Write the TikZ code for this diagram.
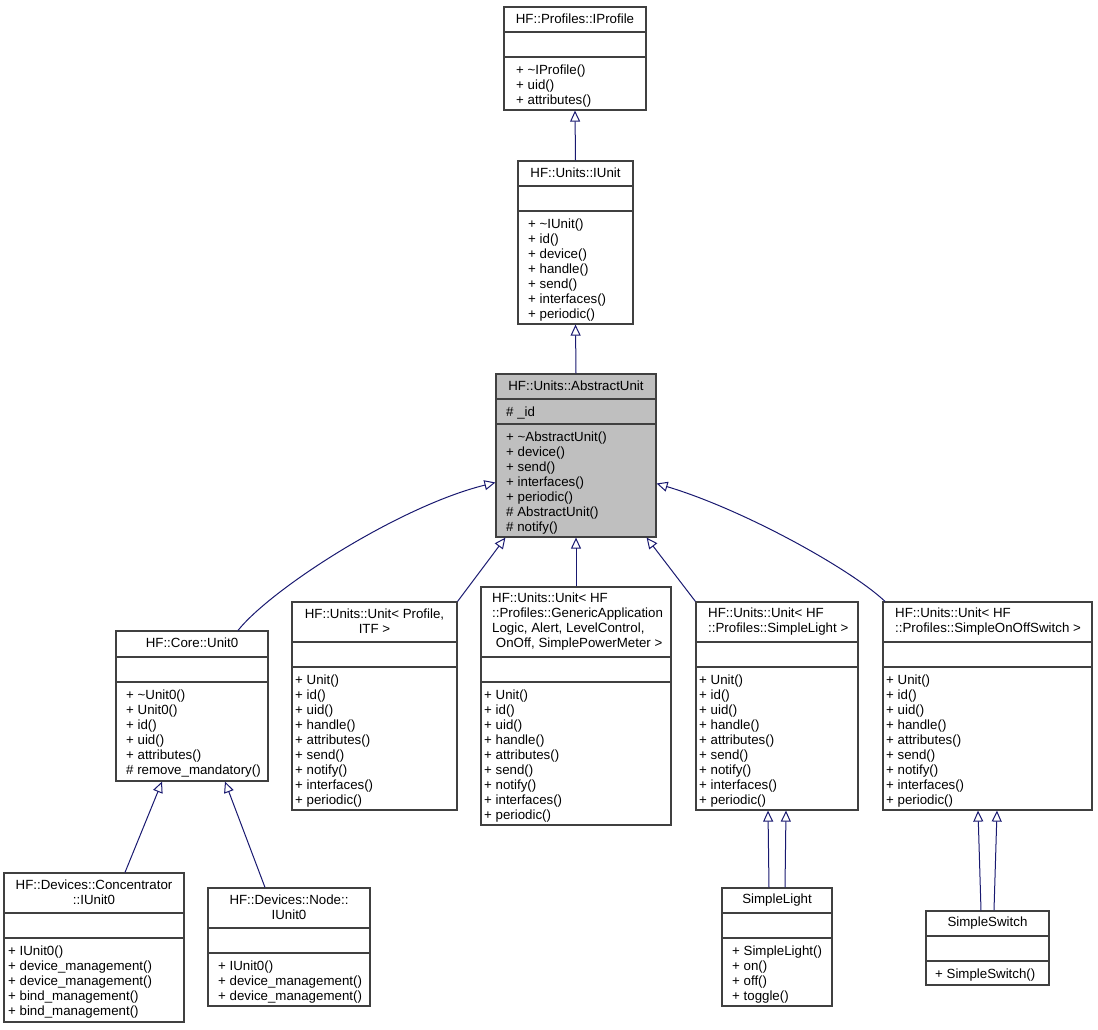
\documentclass[tikz,border=0pt]{standalone}
\usepackage{fontspec}
\setmainfont{Liberation Sans}
\usepackage{tikz}
\usetikzlibrary{arrows.meta}

\definecolor{edgeblue}{HTML}{191970}
\definecolor{boxgray}{HTML}{BFBFBF}
\definecolor{boxline}{HTML}{404040}
\newcommand{\tstrut}{\rule[-2pt]{0pt}{11pt}}

\begin{document}
\begin{tikzpicture}[x=1pt, y=-1pt,
        box/.style={draw=boxline, line width=1.2pt, fill=white, inner sep=0pt},
        sep/.style={draw=boxline, line width=1.2pt},
        ttl/.style={font=\fontsize{13.3}{15}\selectfont, align=center, inner sep=0pt},
        ttlleft/.style={ttl, align=left, anchor=west},
        mem/.style={font=\fontsize{13.3}{15}\selectfont, align=left, inner sep=0pt, anchor=north west, yshift=-4pt},
        inh/.style={draw=edgeblue, line width=1pt, -{Triangle[open, length=11pt, width=10pt]}}]
        \useasboundingbox (0,0) rectangle (1098,1029);

        % Top of the hierarchy
        \node[box, minimum width=142pt, minimum height=103pt] (iprofile) at (575,58.5) {};
        \draw[sep] (504,32) -- (646,32);
        \draw[sep] (504,57) -- (646,57);
        \node[ttl] (iprofile-t) at (575,19.5) {\tstrut HF::Profiles::IProfile};
        \node[mem] (iprofile-m) at (516,61) {\tstrut+ \textasciitilde IProfile()\\+ uid()\\+ attributes()};

        \node[box, minimum width=115pt, minimum height=163pt] (iunit) at (575.5,242.5) {};
        \draw[sep] (518,186) -- (633,186);
        \draw[sep] (518,211) -- (633,211);
        \node[ttl] (iunit-t) at (575.5,173.5) {\tstrut HF::Units::IUnit};
        \node[mem] (iunit-m) at (528,215) {\tstrut+ \textasciitilde IUnit()\\+ id()\\+ device()\\+ handle()\\+ send()\\+ interfaces()\\+ periodic()};

        \node[box, fill=boxgray, minimum width=160pt, minimum height=163pt] (abstractunit) at (576,455.5) {};
        \draw[sep] (496,399) -- (656,399);
        \draw[sep] (496,424) -- (656,424);
        \node[ttl] (abstractunit-t) at (576,386.5) {\tstrut HF::Units::AbstractUnit};
        \node[mem] (abstractunit-a) at (506,403) {\tstrut\# \_id};
        \node[mem] (abstractunit-m) at (506,428) {\tstrut+ \textasciitilde AbstractUnit()\\+ device()\\+ send()\\+ interfaces()\\+ periodic()\\\# AbstractUnit()\\\# notify()};

        % Unit classes
        \node[box, minimum width=152pt, minimum height=150pt] (unit0) at (192,706) {};
        \draw[sep] (116,657) -- (268,657);
        \draw[sep] (116,682) -- (268,682);
        \node[ttl] (unit0-t) at (192,644) {\tstrut HF::Core::Unit0};
        \node[mem] (unit0-m) at (126,686) {\tstrut+ \textasciitilde Unit0()\\+ Unit0()\\+ id()\\+ uid()\\+ attributes()\\\# remove\_mandatory()};

        \node[box, minimum width=165pt, minimum height=208pt] (unitprofile) at (374.5,706) {};
        \draw[sep] (292,642) -- (457,642);
        \draw[sep] (292,667) -- (457,667);
        \node[ttl] (unitprofile-t) at (374.5,622) {\tstrut HF::Units::Unit< Profile,\\ITF >\tstrut};
        \node[mem] (unitprofile-m) at (295,671) {\tstrut+ Unit()\\+ id()\\+ uid()\\+ handle()\\+ attributes()\\+ send()\\+ notify()\\+ interfaces()\\+ periodic()};

        \node[box, minimum width=190pt, minimum height=238pt] (unitgeneric) at (576,706) {};
        \draw[sep] (481,657) -- (671,657);
        \draw[sep] (481,682) -- (671,682);
        \node[ttlleft] (unitgeneric-t) at (492,622) {\tstrut HF::Units::Unit< HF\\::Profiles::GenericApplication\\Logic, Alert, LevelControl,\\\hspace*{0.28em}OnOff, SimplePowerMeter >\tstrut};
        \node[mem] (unitgeneric-m) at (484,686) {\tstrut+ Unit()\\+ id()\\+ uid()\\+ handle()\\+ attributes()\\+ send()\\+ notify()\\+ interfaces()\\+ periodic()};

        \node[box, minimum width=162pt, minimum height=208pt] (unitlight) at (777,706) {};
        \draw[sep] (696,642) -- (858,642);
        \draw[sep] (696,667) -- (858,667);
        \node[ttlleft] (unitlight-t) at (708,622) {\tstrut HF::Units::Unit< HF\\::Profiles::SimpleLight >\tstrut};
        \node[mem] (unitlight-m) at (699,671) {\tstrut+ Unit()\\+ id()\\+ uid()\\+ handle()\\+ attributes()\\+ send()\\+ notify()\\+ interfaces()\\+ periodic()};

        \node[box, minimum width=209pt, minimum height=208pt] (unitswitch) at (987.5,706) {};
        \draw[sep] (883,642) -- (1092,642);
        \draw[sep] (883,667) -- (1092,667);
        \node[ttlleft] (unitswitch-t) at (895,622) {\tstrut HF::Units::Unit< HF\\::Profiles::SimpleOnOffSwitch >\tstrut};
        \node[mem] (unitswitch-m) at (886,671) {\tstrut+ Unit()\\+ id()\\+ uid()\\+ handle()\\+ attributes()\\+ send()\\+ notify()\\+ interfaces()\\+ periodic()};

        % Bottom row
        \node[box, minimum width=180pt, minimum height=149pt] (concentrator) at (94,947.5) {};
        \draw[sep] (4,913) -- (184,913);
        \draw[sep] (4,938) -- (184,938);
        \node[ttl] (concentrator-t) at (94,893) {\tstrut HF::Devices::Concentrator\\::IUnit0\tstrut};
        \node[mem] (concentrator-m) at (8,942) {\tstrut+ IUnit0()\\+ device\_management()\\+ device\_management()\\+ bind\_management()\\+ bind\_management()};

        \node[box, minimum width=162pt, minimum height=118pt] (nodeiunit) at (289,947) {};
        \draw[sep] (208,928) -- (370,928);
        \draw[sep] (208,953) -- (370,953);
        \node[ttl] (nodeiunit-t) at (289,908) {\tstrut HF::Devices::Node::\\IUnit0\tstrut};
        \node[mem] (nodeiunit-m) at (218,957) {\tstrut+ IUnit0()\\+ device\_management()\\+ device\_management()};

        \node[box, minimum width=110pt, minimum height=118pt] (simplelight) at (777,947) {};
        \draw[sep] (722,913) -- (832,913);
        \draw[sep] (722,938) -- (832,938);
        \node[ttl] (simplelight-t) at (777,900.5) {\tstrut SimpleLight};
        \node[mem] (simplelight-m) at (732,942) {\tstrut+ SimpleLight()\\+ on()\\+ off()\\+ toggle()};

        \node[box, minimum width=123pt, minimum height=74pt] (simpleswitch) at (987.5,948) {};
        \draw[sep] (926,936) -- (1049,936);
        \draw[sep] (926,961) -- (1049,961);
        \node[ttl] (simpleswitch-t) at (987.5,923.5) {\tstrut SimpleSwitch};
        \node[mem] (simpleswitch-m) at (935,965) {\tstrut+ SimpleSwitch()};

        % Inheritance
        \draw[inh] (iunit.north) -- (iprofile.south);
        \draw[inh] (abstractunit.north) -- (iunit.south);
        \draw[inh] ([xshift=46pt]unit0.north) .. controls (272,588) and (400,506) .. ([yshift=-27pt]abstractunit.west);
        \draw[inh] (unitprofile.north east) -- ([xshift=10pt]abstractunit.south west);
        \draw[inh] (unitgeneric.north) -- (abstractunit.south);
        \draw[inh] (unitlight.north west) -- ([xshift=-10pt]abstractunit.south east);
        \draw[inh] ([xshift=-102.5pt]unitswitch.north) .. controls (852,570) and (745,510) .. ([yshift=-28pt]abstractunit.east);
        \draw[inh] ([xshift=31pt]concentrator.north) -- ([xshift=-30pt]unit0.south);
        \draw[inh] ([xshift=-24pt]nodeiunit.north) -- ([xshift=33pt]unit0.south);
        \draw[inh] ([xshift=-8pt]simplelight.north) -- ([xshift=-9pt]unitlight.south);
        \draw[inh] ([xshift=8pt]simplelight.north) -- ([xshift=9pt]unitlight.south);
        \draw[inh] ([xshift=-6.5pt]simpleswitch.north) -- ([xshift=-9.5pt]unitswitch.south);
        \draw[inh] ([xshift=6.5pt]simpleswitch.north) -- ([xshift=9.5pt]unitswitch.south);
    \end{tikzpicture}
\end{document}
